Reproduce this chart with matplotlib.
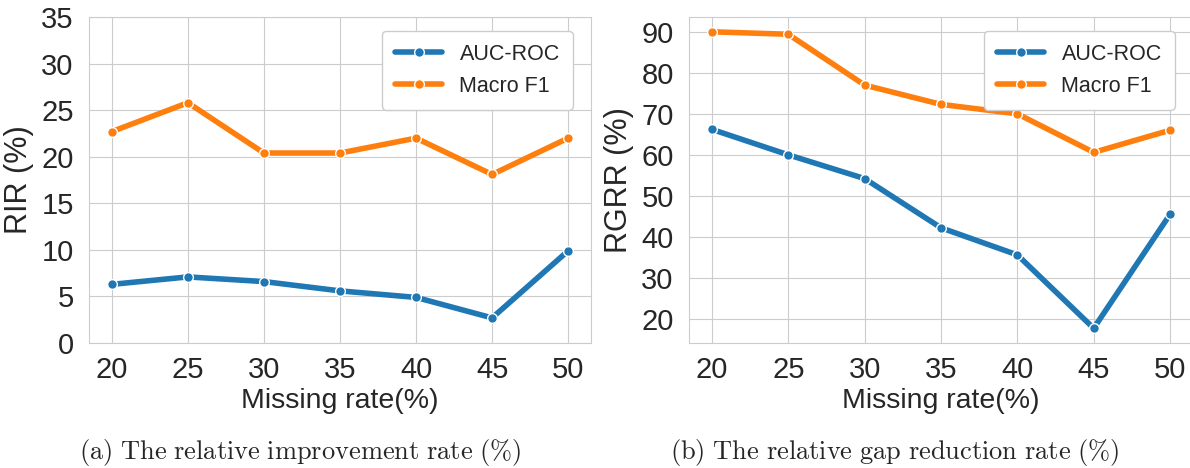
import matplotlib
matplotlib.use("Agg")
import matplotlib.pyplot as plt
import seaborn as sns

# missing rates on the x axis
missing_rate = [20, 25, 30, 35, 40, 45, 50]

# relative improvement rate (%)
rir_auc = [6.3, 7.1, 6.6, 5.6, 4.9, 2.7, 9.9]
rir_f1 = [22.7, 25.8, 20.4, 20.4, 22.0, 18.1, 22.0]

# relative gap reduction rate (%)
rgrr_auc = [66.3, 60.1, 54.3, 42.3, 35.7, 17.8, 45.6]
rgrr_f1 = [90.1, 89.5, 77.1, 72.4, 70.1, 60.7, 66.1]

sns.set_style("whitegrid")
plt.rcParams["font.family"] = ["Liberation Sans", "DejaVu Sans"]
plt.rcParams["mathtext.fontset"] = "cm"

fig = plt.figure(figsize=(11.9, 4.68), dpi=100)
ax1 = fig.add_axes([0.0748, 0.267, 0.4218, 0.6966])
ax2 = fig.add_axes([0.579, 0.267, 0.4235, 0.6966])

blue = "#1f77b4"
orange = "#ff7f0e"

def draw(ax, auc, f1, ylabel):
    ax.plot(missing_rate, auc, color=blue, lw=4, marker="o", ms=7,
            mec="white", mew=1, label="AUC-ROC")
    ax.plot(missing_rate, f1, color=orange, lw=4, marker="o", ms=7,
            mec="white", mew=1, label="Macro F1")
    ax.set_xticks(missing_rate)
    ax.set_xlim(18.5, 51.5)
    ax.tick_params(axis="x", labelsize=21, pad=5.5)
    ax.tick_params(axis="y", labelsize=21, pad=7.5)
    ax.set_xlabel("Missing rate(%)", fontsize=20.5, labelpad=3)
    ax.set_ylabel(ylabel, fontsize=22, labelpad=5)
    ax.legend(loc="upper right", fontsize=15.5, handlelength=2.2, borderpad=0.6,
              framealpha=1, bbox_to_anchor=(0.985, 0.99))

draw(ax1, rir_auc, rir_f1, "RIR (%)")
ax1.set_ylim(0, 35)
ax1.set_yticks(range(0, 36, 5))

draw(ax2, rgrr_auc, rgrr_f1, "RGRR (%)")
ax2.set_ylim(14.2, 93.7)
ax2.set_yticks(range(20, 91, 10))

fig.text(0.252, 0.02, r"$\mathrm{(a)\ The\ relative\ improvement\ rate\ (\%)}$",
         ha="center", va="baseline", fontsize=19)
fig.text(0.752, 0.02, r"$\mathrm{(b)\ The\ relative\ gap\ reduction\ rate\ (\%)}$",
         ha="center", va="baseline", fontsize=19)

fig.savefig("out.png", dpi=100)
